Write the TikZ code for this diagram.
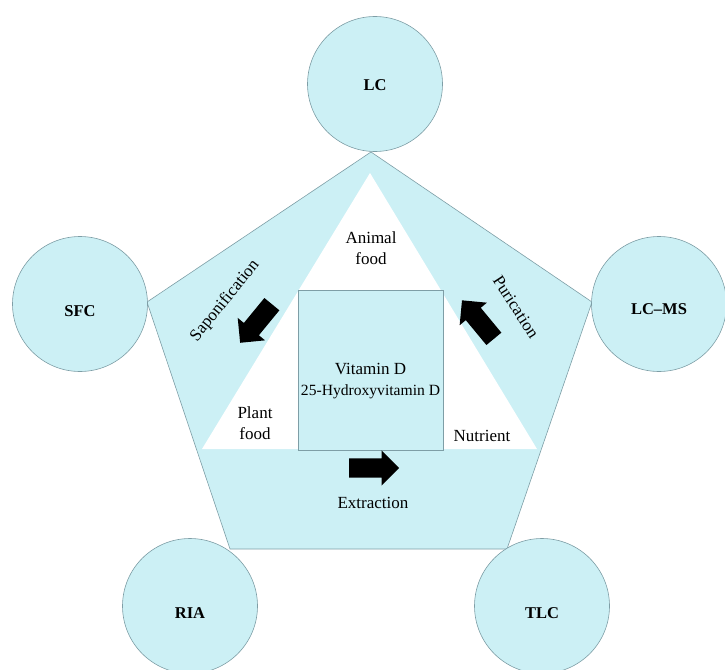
\documentclass[tikz,border=0pt]{standalone}
\usepackage{fontspec}
\setmainfont{Liberation Serif}
\usetikzlibrary{shapes.arrows}
\definecolor{lightcyan}{HTML}{CCF0F5}
\definecolor{edgegray}{HTML}{7E9EA6}
\newcommand{\lowered}[2]{\raisebox{-#1}[0pt][0pt]{#2}}
\begin{document}
\begin{tikzpicture}[x=1pt,y=-1pt,
  tech/.style={circle, draw=edgegray, line width=0.6pt, fill=lightcyan,
    minimum size=135pt, inner sep=0pt, font=\fontsize{16.5}{18}\selectfont\bfseries},
  lbl/.style={font=\fontsize{17}{21}\selectfont, align=center, inner sep=0pt},
  fatarrow/.style={single arrow, fill=black, draw=none, minimum height=50pt,
    inner sep=9.5pt, single arrow head extend=8pt, anchor=tail}]
\useasboundingbox (0,0) rectangle (725,669);
% pentagon vertices
\coordinate (pT)  at (371,152);
\coordinate (pR)  at (592,302);
\coordinate (pBR) at (507,549);
\coordinate (pBL) at (230,549);
\coordinate (pL)  at (147,302);
\fill[lightcyan] (pT) -- (pR) -- (pBR) -- (pBL) -- (pL) -- cycle;
\draw[edgegray, line width=0.6pt] (pT) -- (pR) -- (pBR) -- (pBL) -- (pL) -- cycle;
% inner white triangle
\coordinate (tT) at (370,173);
\coordinate (tR) at (537,449);
\coordinate (tL) at (202,449);
\fill[white] (tT) -- (tR) -- (tL) -- cycle;
% central box
\node[draw=edgegray, line width=0.6pt, fill=lightcyan, minimum width=145pt,
  minimum height=160pt, inner sep=0pt] (box) at (370.5,370) {};
% technique circles
\node[tech] (lc)   at (375,84)  {\lowered{6.5pt}{LC}};
\node[tech] (sfc)  at (80,304)  {\lowered{12pt}{SFC}};
\node[tech] (lcms) at (659,304) {\lowered{10pt}{LC--MS}};
\node[tech] (ria)  at (190,606) {\lowered{12pt}{RIA}};
\node[tech] (tlc)  at (542,606) {\lowered{12pt}{TLC}};
% labels
\node[lbl] (animal)   at (371,248) {Animal\\food};
\node[lbl] (plant)    at (255,423) {Plant\\food};
\node[lbl] (nutrient) at (482,436) {Nutrient};
\node[lbl] (vitd) at (370.5,381) {Vitamin D\\{\fontsize{15.6}{21}\selectfont 25-Hydroxyvitamin D}};
\node[lbl] (extr) at (373,503) {Extraction};
\node[lbl, rotate=51]  (sapo) at (225,301) {Saponification};
\node[lbl, rotate=-57] (puri) at (516,307) {Purication};
% fat arrows (placed by their tails)
\coordinate (sapoTail) at (272,304);
\coordinate (puriTail) at (494,339);
\coordinate (extrTail) at (349,468);
\node[fatarrow, rotate=230.6] (asapo) at (sapoTail) {};
\node[fatarrow, rotate=129.6] (apuri) at (puriTail) {};
\node[fatarrow, rotate=0]     (aextr) at (extrTail) {};
\end{tikzpicture}
\end{document}
